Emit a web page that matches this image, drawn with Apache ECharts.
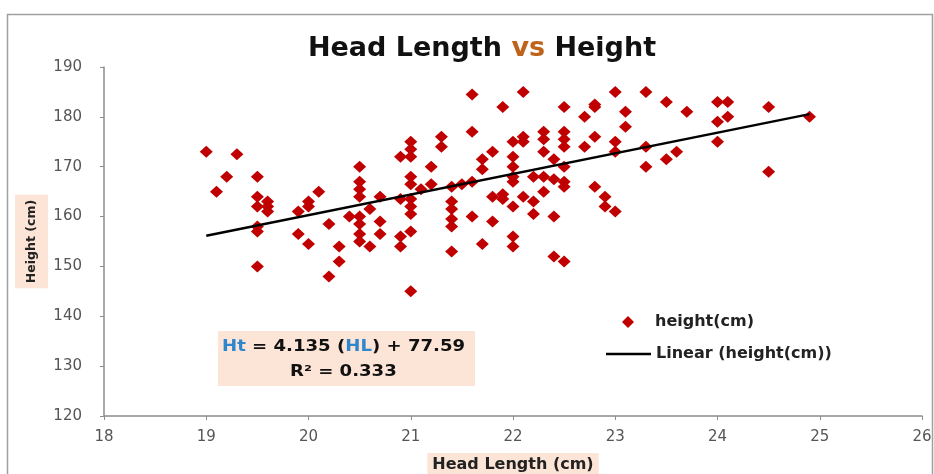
<!DOCTYPE html>
<html>
<head>
<meta charset="utf-8">
<script src="https://cdn.jsdelivr.net/npm/echarts@6/dist/echarts.min.js"></script>
<style>
html,body{margin:0;padding:0;background:#fff;}
#c{width:934px;height:474px;}
</style>
</head>
<body>
<div id="c"></div>
<script>
// Data: [head length (cm), height (cm)]
var points = [
  [19.0,173],[19.1,165],[19.2,168],[19.3,172.5],[19.5,168],[19.5,164],[19.6,163],[19.5,162],[19.6,162],[19.6,161],
  [19.5,158],[19.5,157],[19.5,150],[20.1,165],[20.0,163],[20.0,162],[19.9,161],[20.2,158.5],[19.9,156.5],[20.0,154.5],
  [20.3,154],[20.3,151],[20.2,148],[20.5,170],[20.5,167],[20.5,165.5],[20.5,164],[20.6,161.5],[20.7,164],[20.4,160],
  [20.5,160],[20.5,158.5],[20.7,159],[20.7,156.5],[20.5,156.5],[20.5,155],[20.6,154],[21.0,175],[21.0,173.5],[20.9,172],
  [21.0,172],[21.3,176],[21.3,174],[21.2,170],[21.0,168],[21.0,166.5],[21.1,165.5],[21.2,166.5],[20.9,163.5],[21.0,163.5],
  [21.0,162],[21.0,160.5],[21.4,166],[21.4,163],[21.4,161.5],[21.4,159.5],[21.4,158],[21.4,153],[21.0,157],[20.9,156],
  [20.9,154],[21.0,145],[21.5,166.5],[21.6,184.5],[22.1,185],[21.9,182],[21.6,177],[22.5,182],[22.7,180],[22.8,182.5],
  [22.0,175],[22.1,176],[22.1,175],[22.3,177],[22.3,175.5],[22.5,177],[22.5,175.5],[22.5,174],[22.7,174],[22.8,176],
  [21.8,173],[21.7,171.5],[21.7,169.5],[22.0,172],[22.0,170],[22.3,173],[22.4,171.5],[22.5,170],[21.6,167],[22.0,168],
  [22.0,167],[22.2,168],[22.3,168],[22.4,167.5],[22.5,167],[22.5,166],[22.8,166],[21.8,164],[21.9,164.5],[21.9,163.5],
  [22.1,164],[22.2,163],[22.3,165],[22.0,162],[22.2,160.5],[21.6,160],[21.8,159],[22.4,160],[22.0,156],[22.0,154],
  [21.7,154.5],[22.4,152],[22.5,151],[23.0,185],[23.3,185],[22.8,182],[23.1,181],[23.5,183],[23.7,181],[24.0,183],
  [24.1,183],[23.1,178],[24.0,179],[24.1,180],[23.0,175],[23.0,173],[23.3,174],[24.0,175],[23.6,173],[23.5,171.5],
  [23.3,170],[22.9,164],[22.9,162],[23.0,161],[24.5,182],[24.9,180],[24.5,169]
];
// Trendline end points as drawn in the picture
var trendLine = [[19.0,156.15],[24.9,180.55]];
var xTicks = {min:18, max:26, interval:1};
var yTicks = {min:120, max:190, interval:10};
var equationText = ['{blue|Ht} = 4.135 ({blue|HL}) + 77.59', 'R² = 0.333'];

var chart = echarts.init(document.getElementById('c'));
var peach = '#fce4d6';
var axisGray = '#8c8c8c';
var F = 'DejaVu Sans';
chart.setOption({
  animation: false,
  backgroundColor: '#fff',
  title: [{
    text: '{a|Head Length }{v|vs}{a| Height}',
    left: 477, top: 30, textAlign: 'center',
    textStyle: {
      rich: {
        a: {fontFamily: F, fontWeight: 'bold', fontSize: 27, color: '#111'},
        v: {fontFamily: F, fontWeight: 'bold', fontSize: 27, color: '#c0631a'}
      }
    }
  }],
  grid: {left: 104, right: 12, top: 67, bottom: 58, containLabel: false, outerBoundsMode: 'none'},
  xAxis: {
    type: 'value', min: xTicks.min, max: xTicks.max, interval: xTicks.interval,
    name: 'Head Length (cm)', nameLocation: 'middle', nameGap: 37, nameMoveOverlap: false,
    nameTextStyle: {fontFamily: F, fontWeight: 'bold', fontSize: 16, color: '#222',
      backgroundColor: peach, padding: [4, 5, 10, 5]},
    splitLine: {show: false},
    axisLine: {show: true, lineStyle: {color: axisGray, width: 1.5}},
    axisTick: {show: true, length: 4, lineStyle: {color: axisGray}},
    axisLabel: {margin: 14, fontFamily: F, fontSize: 15, color: '#555'}
  },
  yAxis: {
    type: 'value', min: yTicks.min, max: yTicks.max, interval: yTicks.interval,
    name: 'Height (cm)', nameLocation: 'middle', nameGap: 56, nameRotate: 90, nameMoveOverlap: false,
    nameTextStyle: {fontFamily: F, fontWeight: 'bold', fontSize: 12.5, color: '#222',
      backgroundColor: peach, padding: [10, 5, 10, 5]},
    splitLine: {show: false},
    axisLine: {show: true, lineStyle: {color: axisGray, width: 1.5}},
    axisTick: {show: true, length: 4, lineStyle: {color: axisGray}},
    axisLabel: {margin: 22, fontFamily: F, fontSize: 15, color: '#555'}
  },
  legend: [{
    left: 622, top: 314, orient: 'vertical', padding: 0,
    data: [{name: 'height(cm)', icon: 'diamond'}],
    itemWidth: 12, itemHeight: 12,
    textStyle: {fontFamily: F, fontWeight: 'bold', fontSize: 16, color: '#222', padding: [0, 0, 0, 16]}
  }, {
    left: 606, top: 346, orient: 'vertical', padding: 0,
    data: [{name: 'Linear (height(cm))', icon: 'rect'}],
    itemWidth: 45, itemHeight: 2.5,
    textStyle: {fontFamily: F, fontWeight: 'bold', fontSize: 16, color: '#222'}
  }],
  graphic: [{
    type: 'rect', left: 5, top: 12, silent: true,
    shape: {width: 925, height: 480},
    style: {fill: 'none', stroke: '#a0a0a0', lineWidth: 1.5}
  }, {
    type: 'rect', left: 218, top: 331, silent: true,
    shape: {width: 257, height: 55},
    style: {fill: peach}
  }, {
    type: 'text', left: 222, top: 339, silent: true, scaleX: 1.13,
    style: {
      text: equationText[0],
      fontFamily: F, fontWeight: 'bold', fontSize: 16, fill: '#111',
      rich: {blue: {fontFamily: F, fontWeight: 'bold', fontSize: 16, fill: '#2e86cc'}}
    }
  }, {
    type: 'text', left: 290, top: 364, silent: true, scaleX: 1.13,
    style: {text: equationText[1], fontFamily: F, fontWeight: 'bold', fontSize: 16, fill: '#111'}
  }],
  series: [{
    name: 'height(cm)', type: 'scatter', data: points,
    symbol: 'diamond', symbolSize: [13, 12],
    itemStyle: {color: '#c00000', opacity: 1}, z: 3
  }, {
    name: 'Linear (height(cm))', type: 'line', data: trendLine,
    symbol: 'none', lineStyle: {color: '#000', width: 2.5}, itemStyle: {color: '#000'}, z: 4
  }]
});
</script>
</body>
</html>
